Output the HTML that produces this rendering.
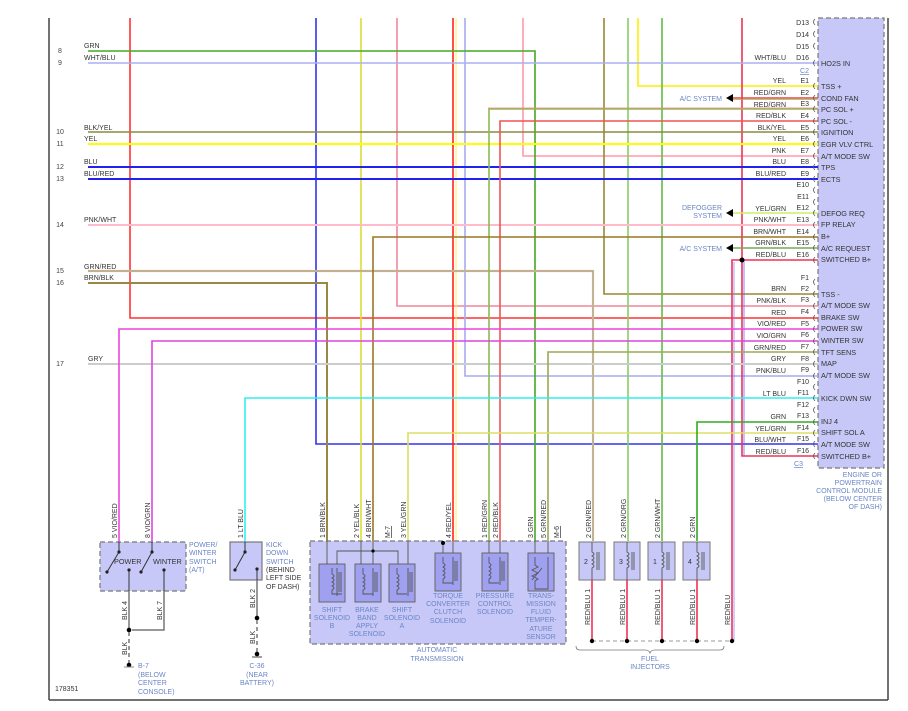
<!DOCTYPE html>
<html><head><meta charset="utf-8"><style>
html,body{margin:0;padding:0;background:#fff;}
svg{display:block;font-family:"Liberation Sans",Arial,sans-serif;}
.t{font-size:7px;fill:#333;}
.b{font-size:7px;fill:#6a86c6;}
.n{font-size:7px;fill:#444;}
.f{font-size:7.3px;fill:#333;}
</style></head><body>
<svg width="908" height="711" viewBox="0 0 908 711" xmlns="http://www.w3.org/2000/svg">
<rect width="908" height="711" fill="#fff"/>
<!-- frame -->
<line x1="49" y1="18" x2="49" y2="700" stroke="#444" stroke-width="1.5"/>
<line x1="49" y1="700" x2="888" y2="700" stroke="#444" stroke-width="1.5"/>
<line x1="888" y1="18" x2="888" y2="700" stroke="#444" stroke-width="1.5"/>

<!-- module -->
<rect x="818" y="18" width="66" height="450" fill="#c8c8f8" stroke="#777" stroke-width="1.2" stroke-dasharray="5,3"/>

<g fill="none" stroke-width="1.6">
<!-- verticals from top -->
<polyline points="130,18 130,318 818,318" stroke="#ff3333"/>
<polyline points="316,18 316,444 818,444" stroke="#3333ee"/>
<polyline points="361,18 361,541" stroke="#dddd33"/>
<polyline points="397,18 397,306 818,306" stroke="#ee8899"/>
<polyline points="453,18 453,541" stroke="#ff2222"/>
<line x1="456" y1="18" x2="456" y2="541" stroke="#ffee55" stroke-width="1"/>
<polyline points="465,18 465,376 818,376" stroke="#aaaaee"/>
<polyline points="523,18 523,156 818,156" stroke="#ff99aa"/>
<polyline points="604,18 604,294 818,294" stroke="#998833"/>
<polyline points="628,18 628,541" stroke="#88cc66"/>
<polyline points="638,18 638,86 818,86" stroke="#ffee00"/>
<polyline points="662,18 662,541" stroke="#66bb44"/>
<polyline points="742,18 742,456 818,456" stroke="#ee3355"/>
<line x1="744" y1="260" x2="744" y2="456" stroke="#6666ff" stroke-width="0.8"/>
<polyline points="818,260 732,260 732,641" stroke="#ee3355"/>
<line x1="734" y1="262" x2="734" y2="641" stroke="#8888ff" stroke-width="0.8"/>
<!-- left horizontals -->
<polyline points="88,51 535,51 535,541" stroke="#44aa22"/>
<line x1="88" y1="63" x2="818" y2="63" stroke="#aab0f0"/>
<line x1="88" y1="132" x2="818" y2="132" stroke="#8a8a44"/>
<line x1="88" y1="144" x2="818" y2="144" stroke="#ffff00" stroke-width="2"/>
<line x1="88" y1="167" x2="818" y2="167" stroke="#2222ee" stroke-width="2"/>
<line x1="88" y1="179" x2="818" y2="179" stroke="#2222ee" stroke-width="2"/>
<line x1="88" y1="225" x2="818" y2="225" stroke="#ffbbcc" stroke-width="2"/>
<polyline points="88,271 593,271 593,541" stroke="#aaddaa" stroke-width="2.2"/>
<polyline points="88,271 593,271 593,541" stroke="#ee6666" stroke-width="0.7"/>
<polyline points="88,283 327,283 327,541" stroke="#998844" stroke-width="2"/>
<line x1="88" y1="364" x2="818" y2="364" stroke="#cccccc" stroke-width="2"/>
<!-- others -->
<polyline points="818,109 489,109 489,541" stroke="#88bb55"/>
<polyline points="818,108 488,108" stroke="#ff7777" stroke-width="0.8"/>
<polyline points="818,121 500,121 500,541" stroke="#ee5555"/>
<polyline points="818,237 373,237 373,541" stroke="#997722"/>
<polyline points="818,352 548,352 548,541" stroke="#99aa55"/>
<polyline points="818,433 408,433 408,541" stroke="#dddd66"/>
<polyline points="818,422 697,422 697,541" stroke="#33aa22"/>
<polyline points="818,329 119,329 119,542" stroke="#ee44dd"/>
<polyline points="818,341 152,341 152,542" stroke="#dd44dd"/>
<polyline points="818,398 245,398 245,542" stroke="#33eeee"/>
<line x1="733" y1="98" x2="818" y2="98" stroke="#ee4444"/>
<line x1="733" y1="99.5" x2="818" y2="99.5" stroke="#88bb55" stroke-width="0.8"/>
<line x1="733" y1="213" x2="818" y2="213" stroke="#ccee66"/>
<line x1="733" y1="248" x2="818" y2="248" stroke="#77aa55"/>
</g>
<circle cx="742" cy="260" r="2.5" fill="#000"/>
<polygon points="726,98 733,94 733,102" fill="#000"/>
<polygon points="726,213 733,209 733,217" fill="#000"/>
<polygon points="726,248 733,244 733,252" fill="#000"/>
<text class="b" x="722" y="101" text-anchor="end">A/C SYSTEM</text>
<text class="b" x="722" y="210" text-anchor="end">DEFOGGER</text>
<text class="b" x="722" y="218" text-anchor="end">SYSTEM</text>
<text class="b" x="722" y="251" text-anchor="end">A/C SYSTEM</text>

<!-- left numbers and labels -->
<g class="n" text-anchor="middle">
<text x="60" y="53">8</text><text x="60" y="65">9</text><text x="60" y="134">10</text><text x="60" y="146">11</text>
<text x="60" y="169">12</text><text x="60" y="181">13</text><text x="60" y="227">14</text><text x="60" y="273">15</text>
<text x="60" y="285">16</text><text x="60" y="366">17</text></g>
<g class="t">
<text x="84" y="48">GRN</text><text x="84" y="60">WHT/BLU</text><text x="84" y="130">BLK/YEL</text><text x="84" y="141">YEL</text>
<text x="84" y="164">BLU</text><text x="84" y="176">BLU/RED</text><text x="84" y="222">PNK/WHT</text><text x="84" y="269">GRN/RED</text>
<text x="84" y="280">BRN/BLK</text><text x="88" y="361">GRY</text></g>

<!-- module pins -->
<g class="t" text-anchor="end">
<text x="809" y="25">D13</text><text x="809" y="37">D14</text><text x="809" y="49">D15</text>
<text x="786" y="60">WHT/BLU</text><text x="809" y="60">D16</text>
<text x="786" y="83">YEL</text><text x="809" y="83">E1</text>
<text x="786" y="95">RED/GRN</text><text x="809" y="95">E2</text>
<text x="786" y="107">RED/GRN</text><text x="809" y="106">E3</text>
<text x="786" y="118">RED/BLK</text><text x="809" y="118">E4</text>
<text x="786" y="130">BLK/YEL</text><text x="809" y="130">E5</text>
<text x="786" y="141">YEL</text><text x="809" y="141">E6</text>
<text x="786" y="153">PNK</text><text x="809" y="153">E7</text>
<text x="786" y="164">BLU</text><text x="809" y="164">E8</text>
<text x="786" y="176">BLU/RED</text><text x="809" y="176">E9</text>
<text x="809" y="187">E10</text><text x="809" y="199">E11</text>
<text x="786" y="211">YEL/GRN</text><text x="809" y="210">E12</text>
<text x="786" y="222">PNK/WHT</text><text x="809" y="222">E13</text>
<text x="786" y="234">BRN/WHT</text><text x="809" y="234">E14</text>
<text x="786" y="245">GRN/BLK</text><text x="809" y="245">E15</text>
<text x="786" y="257">RED/BLU</text><text x="809" y="257">E16</text>
<text x="809" y="280">F1</text>
<text x="786" y="291">BRN</text><text x="809" y="291">F2</text>
<text x="786" y="303">PNK/BLK</text><text x="809" y="302">F3</text>
<text x="786" y="315">RED</text><text x="809" y="314">F4</text>
<text x="786" y="326">VIO/RED</text><text x="809" y="326">F5</text>
<text x="786" y="338">VIO/GRN</text><text x="809" y="337">F6</text>
<text x="786" y="350">GRN/RED</text><text x="809" y="349">F7</text>
<text x="786" y="361">GRY</text><text x="809" y="361">F8</text>
<text x="786" y="373">PNK/BLU</text><text x="809" y="372">F9</text>
<text x="809" y="384">F10</text>
<text x="786" y="396">LT BLU</text><text x="809" y="395">F11</text>
<text x="809" y="407">F12</text>
<text x="786" y="419">GRN</text><text x="809" y="418">F13</text>
<text x="786" y="431">YEL/GRN</text><text x="809" y="430">F14</text>
<text x="786" y="442">BLU/WHT</text><text x="809" y="441">F15</text>
<text x="786" y="454">RED/BLU</text><text x="809" y="453">F16</text>
</g>
<text class="b" x="809" y="73" text-anchor="end" text-decoration="underline">C2</text>
<text class="b" x="803" y="466" text-anchor="end" text-decoration="underline">C3</text>
<g fill="none" stroke="#555" stroke-width="0.8">
<path d="M815,19 q-3,3 0,6 M815,31 q-3,3 0,6 M815,43 q-3,3 0,6 M815,60 q-3,3 0,6 M815,83 q-3,3 0,6 M815,95 q-3,3 0,6 M815,106 q-3,3 0,6 M815,118 q-3,3 0,6 M815,129 q-3,3 0,6 M815,141 q-3,3 0,6 M815,153 q-3,3 0,6 M815,164 q-3,3 0,6 M815,176 q-3,3 0,6 M815,187 q-3,3 0,6 M815,199 q-3,3 0,6 M815,210 q-3,3 0,6 M815,222 q-3,3 0,6 M815,234 q-3,3 0,6 M815,245 q-3,3 0,6 M815,257 q-3,3 0,6 M815,279 q-3,3 0,6 M815,291 q-3,3 0,6 M815,303 q-3,3 0,6 M815,315 q-3,3 0,6 M815,326 q-3,3 0,6 M815,338 q-3,3 0,6 M815,349 q-3,3 0,6 M815,361 q-3,3 0,6 M815,373 q-3,3 0,6 M815,384 q-3,3 0,6 M815,395 q-3,3 0,6 M815,407 q-3,3 0,6 M815,419 q-3,3 0,6 M815,430 q-3,3 0,6 M815,441 q-3,3 0,6 M815,453 q-3,3 0,6"/>
</g>
<g class="f">
<text x="821" y="66">HO2S IN</text><text x="821" y="89">TSS +</text><text x="821" y="101">COND FAN</text>
<text x="821" y="112">PC SOL +</text><text x="821" y="124">PC SOL -</text><text x="821" y="135">IGNITION</text>
<text x="821" y="147">EGR VLV CTRL</text><text x="821" y="159">A/T MODE SW</text><text x="821" y="170">TPS</text>
<text x="821" y="182">ECTS</text><text x="821" y="216">DEFOG REQ</text><text x="821" y="227">FP RELAY</text>
<text x="821" y="239">B+</text><text x="821" y="251">A/C REQUEST</text><text x="821" y="262">SWITCHED B+</text>
<text x="821" y="297">TSS -</text><text x="821" y="308">A/T MODE SW</text><text x="821" y="320">BRAKE SW</text>
<text x="821" y="331">POWER SW</text><text x="821" y="343">WINTER SW</text><text x="821" y="355">TFT SENS</text>
<text x="821" y="366">MAP</text><text x="821" y="378">A/T MODE SW</text><text x="821" y="401">KICK DWN SW</text>
<text x="821" y="424">INJ 4</text><text x="821" y="435">SHIFT SOL A</text><text x="821" y="447">A/T MODE SW</text>
<text x="821" y="459">SWITCHED B+</text></g>
<g class="b" text-anchor="end">
<text x="882" y="477">ENGINE OR</text><text x="882" y="485">POWERTRAIN</text><text x="882" y="493">CONTROL MODULE</text>
<text x="882" y="501">(BELOW CENTER</text><text x="882" y="509">OF DASH)</text></g>

<!-- vertical wire labels -->
<g class="t">
<text transform="translate(117,538) rotate(-90)">5  VIO/RED</text>
<text transform="translate(150,538) rotate(-90)">8  VIO/GRN</text>
<text transform="translate(243,538) rotate(-90)">1  LT BLU</text>
<text transform="translate(325,538) rotate(-90)">1  BRN/BLK</text>
<text transform="translate(359,538) rotate(-90)">2  YEL/BLK</text>
<text transform="translate(371,538) rotate(-90)">4  BRN/WHT</text>
<text transform="translate(406,538) rotate(-90)">3  YEL/GRN</text>
<text transform="translate(451,538) rotate(-90)">4  RED/YEL</text>
<text transform="translate(487,538) rotate(-90)">1  RED/GRN</text>
<text transform="translate(498,538) rotate(-90)">2  RED/BLK</text>
<text transform="translate(533,538) rotate(-90)">3  GRN</text>
<text transform="translate(546,538) rotate(-90)">5  GRN/RED</text>
<text transform="translate(591,538) rotate(-90)">2  GRN/RED</text>
<text transform="translate(626,538) rotate(-90)">2  GRN/ORG</text>
<text transform="translate(660,538) rotate(-90)">2  GRN/WHT</text>
<text transform="translate(695,538) rotate(-90)">2  GRN</text>
<text transform="translate(127,620) rotate(-90)">BLK  4</text>
<text transform="translate(162,620) rotate(-90)">BLK  7</text>
<text transform="translate(127,655) rotate(-90)">BLK</text>
<text transform="translate(255,608) rotate(-90)">BLK  2</text>
<text transform="translate(255,644) rotate(-90)">BLK</text>
<text transform="translate(590,625) rotate(-90)">RED/BLU  1</text>
<text transform="translate(625,625) rotate(-90)">RED/BLU  1</text>
<text transform="translate(660,625) rotate(-90)">RED/BLU  1</text>
<text transform="translate(695,625) rotate(-90)">RED/BLU  1</text>
<text transform="translate(730,625) rotate(-90)">RED/BLU</text>
</g>
<text class="t" transform="translate(390,538) rotate(-90)" text-decoration="underline">M-7</text>
<text class="t" transform="translate(559,538) rotate(-90)" text-decoration="underline">M-6</text>

<!-- power/winter switch -->
<rect x="100" y="542" width="86" height="49" fill="#c8c8f8" stroke="#777" stroke-width="1.2" stroke-dasharray="5,3"/>
<g stroke="#333" stroke-width="1" fill="none">
<line x1="119" y1="542" x2="119" y2="552"/><line x1="119" y1="552" x2="107" y2="572"/>
<line x1="152" y1="542" x2="152" y2="552"/><line x1="152" y1="552" x2="141" y2="572"/>
<line x1="129" y1="570" x2="129" y2="591"/><line x1="164" y1="570" x2="164" y2="591"/>
</g>
<g fill="#222"><circle cx="119" cy="552" r="1.6"/><circle cx="107" cy="572" r="1.6"/><circle cx="152" cy="552" r="1.6"/><circle cx="141" cy="572" r="1.6"/><circle cx="129" cy="570" r="1.6"/><circle cx="164" cy="570" r="1.6"/></g>
<text class="f" x="114" y="564">POWER</text><text class="f" x="153" y="564">WINTER</text>
<g class="b"><text x="189" y="547">POWER/</text><text x="189" y="555">WINTER</text><text x="189" y="564">SWITCH</text><text x="189" y="572">(A/T)</text></g>
<g stroke="#777" stroke-width="1.5" fill="none"><polyline points="129,591 129,630"/><polyline points="164,591 164,630 132,630"/></g>
<circle cx="129" cy="630" r="2.3" fill="#000"/>
<line x1="129" y1="632" x2="129" y2="663" stroke="#777" stroke-width="1.5" stroke-dasharray="4,3"/>
<circle cx="129" cy="665" r="2.3" fill="#000"/><line x1="124" y1="667" x2="134" y2="667" stroke="#888"/>
<g class="b"><text x="138" y="668">B-7</text><text x="138" y="677">(BELOW</text><text x="138" y="685">CENTER</text><text x="138" y="694">CONSOLE)</text></g>
<text class="t" x="55" y="691">178351</text>

<!-- kick down -->
<rect x="230" y="542" width="32" height="38" fill="#c8c8f8" stroke="#777" stroke-width="1.2"/>
<g stroke="#333" stroke-width="1"><line x1="245" y1="542" x2="245" y2="552"/><line x1="245" y1="552" x2="235" y2="570"/><line x1="257" y1="569" x2="257" y2="580"/></g>
<g fill="#222"><circle cx="245" cy="552" r="1.6"/><circle cx="235" cy="570" r="1.6"/><circle cx="257" cy="569" r="1.6"/></g>
<g class="b"><text x="266" y="547">KICK</text><text x="266" y="555">DOWN</text><text x="266" y="564">SWITCH</text></g>
<g class="t"><text x="266" y="572">(BEHIND</text><text x="266" y="580">LEFT SIDE</text><text x="266" y="589">OF DASH)</text></g>
<line x1="257" y1="580" x2="257" y2="618" stroke="#777" stroke-width="1.5"/>
<circle cx="257" cy="618" r="2.3" fill="#000"/>
<line x1="257" y1="620" x2="257" y2="652" stroke="#777" stroke-width="1.5" stroke-dasharray="4,3"/>
<circle cx="257" cy="654" r="2.3" fill="#000"/><line x1="252" y1="657" x2="262" y2="657" stroke="#444"/>
<g class="b" text-anchor="middle"><text x="257" y="668">C-36</text><text x="257" y="677">(NEAR</text><text x="257" y="685">BATTERY)</text></g>

<!-- transmission -->
<rect x="310" y="541" width="256" height="103" fill="#c8c8f8" stroke="#777" stroke-width="1.2" stroke-dasharray="5,3"/>
<g fill="#a0a0f0" stroke="#666" stroke-width="1">
<rect x="319" y="564" width="26" height="38"/><rect x="355" y="564" width="26" height="38"/><rect x="389" y="564" width="26" height="38"/>
<rect x="435" y="553" width="26" height="38"/><rect x="482" y="553" width="26" height="38"/><rect x="528" y="553" width="26" height="38"/>
</g>
<g fill="none" stroke="#555" stroke-width="0.9">
<polyline points="327,541 327,564"/><polyline points="361,541 361,564"/><polyline points="373,541 373,564"/><polyline points="408,541 408,564"/>
<polyline points="337,564 337,551 398,551 398,564"/>
<polyline points="443,541 443,553"/><polyline points="453,541 453,553"/><polyline points="489,541 489,553"/><polyline points="500,541 500,553"/>
<polyline points="535,541 535,553"/><polyline points="548,541 548,553"/>
<path d="M332,568 v6 q4,2 0,4 q4,2 0,4 q4,2 0,4 q4,2 0,4 v4 h10 M337,568 v28 M339,572 v20 M341,572 v20"/>
<path d="M363,568 v6 q4,2 0,4 q4,2 0,4 q4,2 0,4 q4,2 0,4 v4 h10 M373,568 v28 M375,572 v20 M377,572 v20"/>
<path d="M397,568 v6 q4,2 0,4 q4,2 0,4 q4,2 0,4 q4,2 0,4 v4 h10 M408,568 v28 M410,572 v20 M412,572 v20"/>
<path d="M443,557 v6 q4,2 0,4 q4,2 0,4 q4,2 0,4 q4,2 0,4 v4 h10 M453,557 v28 M455,561 v20 M457,561 v20"/>
<path d="M489,557 v6 q4,2 0,4 q4,2 0,4 q4,2 0,4 q4,2 0,4 v4 h10 M500,557 v28 M502,561 v20 M504,561 v20"/>
<path d="M535,557 v8 l3,2 -6,3 6,3 -6,3 6,3 -3,2 v8 h13 v-32 M532,580 l10,-12"/>
</g>
<circle cx="373" cy="551" r="1.6" fill="#000"/><circle cx="443" cy="543" r="2" fill="#000"/>
<g class="b" text-anchor="middle">
<text x="332" y="612">SHIFT</text><text x="332" y="620">SOLENOID</text><text x="332" y="628">B</text>
<text x="367" y="612">BRAKE</text><text x="367" y="620">BAND</text><text x="367" y="628">APPLY</text><text x="367" y="636">SOLENOID</text>
<text x="402" y="612">SHIFT</text><text x="402" y="620">SOLENOID</text><text x="402" y="628">A</text>
<text x="448" y="598">TORQUE</text><text x="448" y="606">CONVERTER</text><text x="448" y="614">CLUTCH</text><text x="448" y="623">SOLENOID</text>
<text x="495" y="598">PRESSURE</text><text x="495" y="606">CONTROL</text><text x="495" y="614">SOLENOID</text>
<text x="541" y="598">TRANS-</text><text x="541" y="606">MISSION</text><text x="541" y="614">FLUID</text><text x="541" y="622">TEMPER-</text><text x="541" y="631">ATURE</text><text x="541" y="639">SENSOR</text>
<text x="437" y="652">AUTOMATIC</text><text x="437" y="661">TRANSMISSION</text>
</g>

<!-- injectors -->
<g fill="#c8c8f8" stroke="#777" stroke-width="1">
<rect x="579" y="542" width="26" height="38"/><rect x="614" y="542" width="26" height="38"/><rect x="648" y="542" width="27" height="38"/><rect x="683" y="542" width="27" height="38"/>
</g>
<g fill="none" stroke="#555" stroke-width="0.9">
<path d="M592,542 v10 q4,2 0,4 q4,2 0,4 q4,2 0,4 q4,2 0,4 v12 M597,552 v18 M599,552 v18"/>
<path d="M627,542 v10 q4,2 0,4 q4,2 0,4 q4,2 0,4 q4,2 0,4 v12 M632,552 v18 M634,552 v18"/>
<path d="M662,542 v10 q4,2 0,4 q4,2 0,4 q4,2 0,4 q4,2 0,4 v12 M667,552 v18 M669,552 v18"/>
<path d="M697,542 v10 q4,2 0,4 q4,2 0,4 q4,2 0,4 q4,2 0,4 v12 M702,552 v18 M704,552 v18"/>
</g>
<g class="t"><text x="584" y="564">2</text><text x="619" y="564">3</text><text x="653" y="564">1</text><text x="688" y="564">4</text></g>
<g stroke="#ee3355" stroke-width="1.6"><line x1="592" y1="580" x2="592" y2="641"/><line x1="627" y1="580" x2="627" y2="641"/><line x1="662" y1="580" x2="662" y2="641"/><line x1="697" y1="580" x2="697" y2="641"/></g>
<line x1="592" y1="641" x2="732" y2="641" stroke="#999" stroke-dasharray="4,3"/>
<g fill="#000"><circle cx="592" cy="641" r="2.2"/><circle cx="627" cy="641" r="2.2"/><circle cx="662" cy="641" r="2.2"/><circle cx="697" cy="641" r="2.2"/><circle cx="732" cy="641" r="2.2"/></g>
<path d="M576,646 q0,4 4,4 h65 q4,0 5,3 q1,-3 5,-3 h65 q4,0 4,-4" fill="none" stroke="#777" stroke-width="0.8"/>
<g class="b" text-anchor="middle"><text x="650" y="661">FUEL</text><text x="650" y="669">INJECTORS</text></g>
</svg>
</body></html>
